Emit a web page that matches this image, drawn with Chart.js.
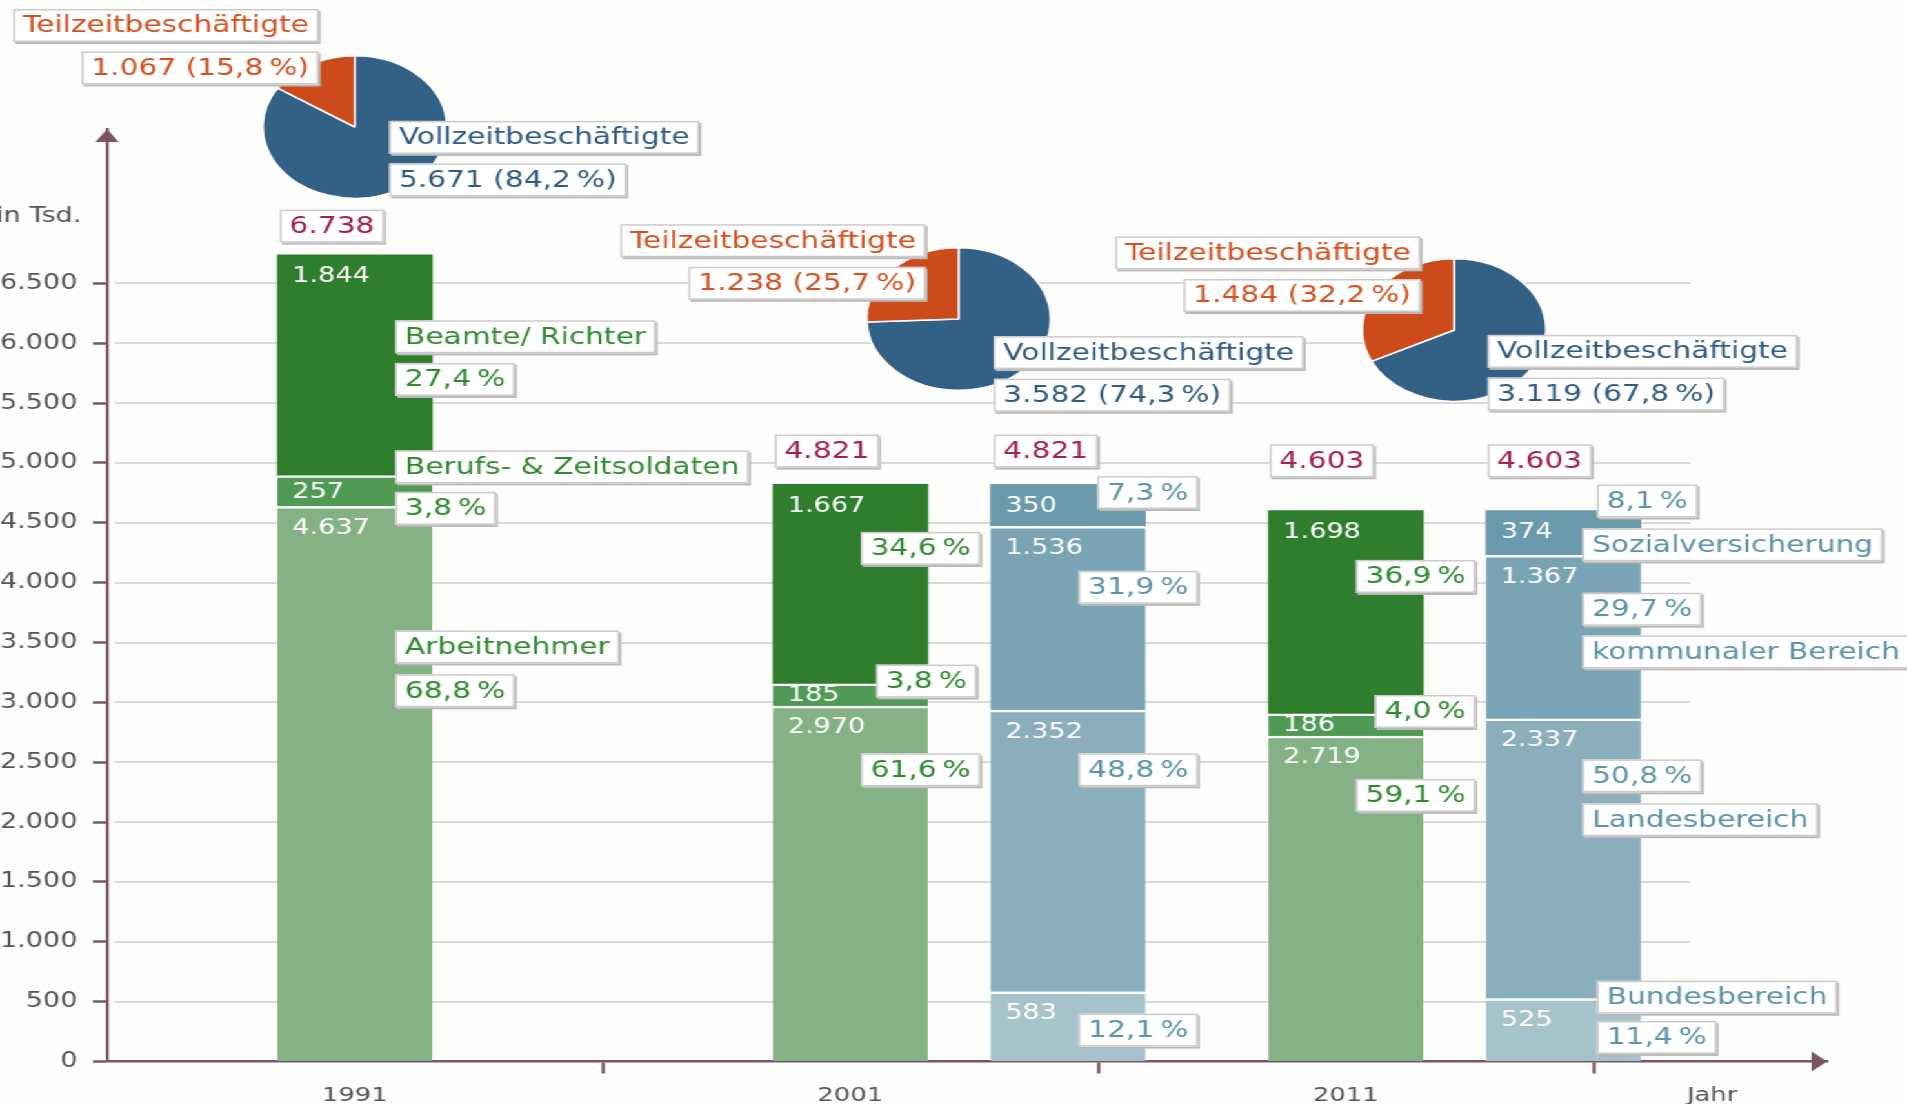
<!DOCTYPE html>
<html><head><meta charset="utf-8">
<script src="https://cdn.jsdelivr.net/npm/chart.js@4.4.1/dist/chart.umd.min.js"></script>
<style>
html,body{margin:0;padding:0;background:#fdfdfc;overflow:hidden;width:1907px;height:1104px;}
#wrap{position:absolute;left:0;top:0;width:1478px;height:1104px;transform:scaleX(1.2903);transform-origin:0 0;}
#wrap canvas{position:absolute;left:0;top:0;}
</style></head><body>
<div id="wrap">
<canvas id="main" width="1478" height="1104"></canvas>
<canvas id="pie0" width="146" height="146"></canvas>
<canvas id="pie1" width="146" height="146"></canvas>
<canvas id="pie2" width="146" height="146"></canvas>
<canvas id="over" width="1478" height="1104"></canvas>
</div>
<script>
// ---------- data ----------
const years = ['1991', '2001', '2011'];
const xAxisTitle = 'Jahr';
const yAxisTitle = 'in Tsd.';
const yTicks = [0, 500, 1000, 1500, 2000, 2500, 3000, 3500, 4000, 4500, 5000, 5500, 6000, 6500];

// status groups (green stacks), 1991 / 2001 / 2011
const greenSeries = ['Arbeitnehmer', 'Berufs- & Zeitsoldaten', 'Beamte/ Richter'];
const arbeitnehmer = [4637, 2970, 2719];
const soldaten = [257, 185, 186];
const beamte = [1844, 1667, 1698];
const totalsGreen = [6738, 4821, 4603];

// areas (blue stacks), 2001 / 2011
const blueSeries = ['Bundesbereich', 'Landesbereich', 'kommunaler Bereich', 'Sozialversicherung'];
const bundes = [583, 525];
const landes = [2352, 2337];
const kommunal = [1536, 1367];
const sozial = [350, 374];
const totalsBlue = [4821, 4603];

// pies: full time / part time, 1991 / 2001 / 2011
const pieSeries = ['Vollzeitbeschäftigte', 'Teilzeitbeschäftigte'];
const vollzeit = [5671, 3582, 3119];
const teilzeit = [1067, 1238, 1484];

// ---------- layout / style ----------
const FONT = "'DejaVu Sans', Verdana, sans-serif";
const AX = '#7b5566';
const W = 1478;
const X_MAX = 3.471, Y_MAX = 7790;
const greenPos = [0.5, 1.5, 2.5];
const bluePos = [1.939, 2.939];
const xTickPos = [0.5, 1, 1.5, 2, 2.5, 3, 3.239];
const xTickText = [years[0], '', years[1], '', years[2], '', xAxisTitle];
const GRID_X0 = 0.0156, GRID_X1 = 3.195;
const COL = {
  arb: '#85b285', sol: '#4f9b55', bea: '#2e7e2e',
  bun: '#a6c2cb', lan: '#8aaebb', kom: '#7aa4b4', soz: '#6b9aad',
  vz: '#336186', tz: '#cd4b1b'
};
const TXT = { g: '#2e8b2e', b: '#5b93a8', tz: '#d4501f', vz: '#2f5b82', tot: '#a5204a' };

const de = n => String(n).replace(/\B(?=(\d{3})+(?!\d))/g, '.');
const pct = (v, t) => (v / t * 100).toFixed(1).replace('.', ',') + '\u2009%';
const pts = (pos, vals) => vals.map((v, i) => ({ x: pos[i], y: v }));
const pieTxt = (i, k) => { const v = k === 0 ? vollzeit[i] : teilzeit[i]; return de(v) + ' (' + pct(v, vollzeit[i] + teilzeit[i]) + ')'; };

const sep = { top: 2.5, left: 0, right: 0, bottom: 0 };
const none = { top: 0, left: 0, right: 0, bottom: 0 };

// label boxes: text, colour, x (slot units), y (data units), alignment
const boxes = [
  [pieSeries[1], TXT.tz, 0.427, 8655, 'r'],
  [pieTxt(0, 1), TXT.tz, 0.427, 8300, 'r'],
  [pieSeries[0], TXT.vz, 0.5693, 7720, 'l'],
  [pieTxt(0, 0), TXT.vz, 0.5693, 7365, 'l'],
  [de(totalsGreen[0]), TXT.tot, 0.3484, 6979, 'l'],
  [greenSeries[2], TXT.g, 0.5816, 6054, 'l'],
  [pct(beamte[0], totalsGreen[0]), TXT.g, 0.5816, 5698, 'l'],
  [greenSeries[1], TXT.g, 0.5816, 4967, 'l'],
  [pct(soldaten[0], totalsGreen[0]), TXT.g, 0.5816, 4621, 'l'],
  [greenSeries[0], TXT.g, 0.5816, 3463, 'l'],
  [pct(arbeitnehmer[0], totalsGreen[0]), TXT.g, 0.5816, 3097, 'l'],

  [pieSeries[1], TXT.tz, 1.6518, 6857, 'r'],
  [pieTxt(1, 1), TXT.tz, 1.6518, 6501, 'r'],
  [pieSeries[0], TXT.vz, 1.7892, 5922, 'l'],
  [pieTxt(1, 0), TXT.vz, 1.7892, 5566, 'l'],
  [de(totalsGreen[1]), TXT.tot, 1.3474, 5099, 'l'],
  [de(totalsBlue[0]), TXT.tot, 1.7892, 5099, 'l'],
  [pct(beamte[1], totalsGreen[1]), TXT.g, 1.7623, 4286, 'r'],
  [pct(soldaten[1], totalsGreen[1]), TXT.g, 1.7549, 3178, 'r'],
  [pct(arbeitnehmer[1], totalsGreen[1]), TXT.g, 1.7623, 2437, 'r'],
  [pct(sozial[0], totalsBlue[0]), TXT.b, 2.2016, 4753, 'r'],
  [pct(kommunal[0], totalsBlue[0]), TXT.b, 2.2016, 3961, 'r'],
  [pct(landes[0], totalsBlue[0]), TXT.b, 2.2016, 2437, 'r'],
  [pct(bundes[0], totalsBlue[0]), TXT.b, 2.2016, 262, 'r'],

  [pieSeries[1], TXT.tz, 2.6508, 6755, 'r'],
  [pieTxt(2, 1), TXT.tz, 2.6508, 6399, 'r'],
  [pieSeries[0], TXT.vz, 2.7858, 5932, 'l'],
  [pieTxt(2, 0), TXT.vz, 2.7858, 5576, 'l'],
  [de(totalsGreen[2]), TXT.tot, 2.3464, 5018, 'l'],
  [de(totalsBlue[1]), TXT.tot, 2.7858, 5018, 'l'],
  [pct(beamte[2], totalsGreen[2]), TXT.g, 2.7613, 4052, 'r'],
  [pct(soldaten[2], totalsGreen[2]), TXT.g, 2.7613, 2924, 'r'],
  [pct(arbeitnehmer[2], totalsGreen[2]), TXT.g, 2.7613, 2223, 'r'],
  [pct(sozial[1], totalsBlue[1]), TXT.b, 3.0067, 4682, 'l'],
  [blueSeries[3], TXT.b, 2.9773, 4316, 'l'],
  [pct(kommunal[1], totalsBlue[1]), TXT.b, 2.9773, 3778, 'l'],
  [blueSeries[2], TXT.b, 2.9773, 3422, 'l'],
  [pct(landes[1], totalsBlue[1]), TXT.b, 2.9773, 2386, 'l'],
  [blueSeries[1], TXT.b, 2.9773, 2020, 'l'],
  [blueSeries[0], TXT.b, 3.0067, 537, 'l'],
  [pct(bundes[1], totalsBlue[1]), TXT.b, 3.0067, 201, 'l']
];
const pieX = [0.5, 1.7195, 2.7195];
const pieY = [7807, 6203, 6107];

function drawBox(ctx, text, color, px, py, align) {
  ctx.font = '23px ' + FONT;
  const tw = ctx.measureText(text).width;
  const padX = 7.5, w = tw + 2 * padX, h = 33;
  const left = align === 'r' ? px - w : px;
  const top = py - h / 2;
  ctx.fillStyle = '#b9b9b9';
  ctx.fillRect(left + 1.5, top + 2, w, h);
  ctx.fillStyle = '#ffffff';
  ctx.fillRect(left, top, w, h);
  ctx.strokeStyle = '#cbcbcb';
  ctx.lineWidth = 1.5;
  ctx.strokeRect(left + 0.75, top + 0.75, w - 1.5, h - 1.5);
  ctx.fillStyle = color;
  ctx.textBaseline = 'middle';
  ctx.textAlign = 'left';
  ctx.fillText(text, left + padX, py + 1);
}

const gridPlugin = {
  id: 'gridPlugin',
  beforeDatasetsDraw(chart) {
    const { ctx, scales: { x, y } } = chart;
    ctx.save();
    ctx.strokeStyle = '#d9d9d9';
    ctx.lineWidth = 2;
    y.ticks.forEach(t => {
      if (t.value === 0) return;
      const py = Math.round(y.getPixelForValue(t.value));
      ctx.beginPath();
      ctx.moveTo(x.getPixelForValue(GRID_X0), py);
      ctx.lineTo(x.getPixelForValue(GRID_X1), py);
      ctx.stroke();
    });
    ctx.restore();
  },
  afterDraw(chart) {
    const { ctx, chartArea: a } = chart;
    ctx.save();
    ctx.fillStyle = AX;
    // y arrow
    ctx.beginPath();
    ctx.moveTo(a.left, a.top);
    ctx.lineTo(a.left - 9, a.top + 13);
    ctx.lineTo(a.left + 9, a.top + 13);
    ctx.closePath(); ctx.fill();
    // x arrow
    ctx.beginPath();
    ctx.moveTo(a.right, a.bottom);
    ctx.lineTo(a.right - 12, a.bottom - 10);
    ctx.lineTo(a.right - 12, a.bottom + 10);
    ctx.closePath(); ctx.fill();
    // unit label
    ctx.fillStyle = '#555';
    ctx.font = '21px ' + FONT;
    ctx.textBaseline = 'middle';
    ctx.textAlign = 'left';
    ctx.fillText(yAxisTitle, -3, 217);
    ctx.restore();

    // overlay: values inside bars + label boxes
    const oc = document.getElementById('over').getContext('2d');
    oc.clearRect(0, 0, W, 1104);
    oc.save();
    oc.font = '21px ' + FONT;
    oc.fillStyle = '#ffffff';
    oc.textBaseline = 'middle';
    oc.textAlign = 'left';
    chart.data.datasets.forEach((ds, di) => {
      const meta = chart.getDatasetMeta(di);
      meta.data.forEach((el, i) => {
        const h = el.base - el.y;
        const ty = el.y + Math.min(21, h / 2) + 1;
        oc.fillText(de(ds.data[i].y), el.x - el.width / 2 + 11.5, ty);
      });
    });
    const xs = chart.scales.x, ys = chart.scales.y;
    boxes.forEach(b => drawBox(oc, b[0], b[1], xs.getPixelForValue(b[2]), ys.getPixelForValue(b[3]), b[4]));
    oc.restore();
  }
};

const mainChart = new Chart(document.getElementById('main'), {
  type: 'bar',
  data: {
    datasets: [
      { label: greenSeries[0], data: pts(greenPos, arbeitnehmer), backgroundColor: COL.arb, borderColor: '#fff', borderWidth: sep, borderSkipped: false },
      { label: greenSeries[1], data: pts(greenPos, soldaten), backgroundColor: COL.sol, borderColor: '#fff', borderWidth: sep, borderSkipped: false },
      { label: greenSeries[2], data: pts(greenPos, beamte), backgroundColor: COL.bea, borderWidth: none, borderSkipped: false },
      { label: blueSeries[0], data: pts(bluePos, bundes), backgroundColor: COL.bun, borderColor: '#fff', borderWidth: sep, borderSkipped: false },
      { label: blueSeries[1], data: pts(bluePos, landes), backgroundColor: COL.lan, borderColor: '#fff', borderWidth: sep, borderSkipped: false },
      { label: blueSeries[2], data: pts(bluePos, kommunal), backgroundColor: COL.kom, borderColor: '#fff', borderWidth: sep, borderSkipped: false },
      { label: blueSeries[3], data: pts(bluePos, sozial), backgroundColor: COL.soz, borderWidth: none, borderSkipped: false }
    ]
  },
  options: {
    responsive: false,
    animation: false,
    events: [],
    layout: { padding: { top: 129, right: W - 1416, left: 0, bottom: 0 } },
    plugins: { legend: { display: false }, tooltip: { enabled: false } },
    datasets: { bar: { barThickness: 120, grouped: false } },
    scales: {
      x: {
        type: 'linear', min: 0, max: X_MAX, stacked: true, offset: false,
        afterBuildTicks: s => { s.ticks = xTickPos.map(v => ({ value: v })); },
        afterFit: s => { s.height = 42.5; },
        ticks: { autoSkip: false, maxRotation: 0, padding: 10, color: '#555', font: { family: FONT, size: 20 },
                 callback: (v, i) => xTickText[i] },
        grid: { offset: false, drawOnChartArea: false, drawTicks: true, tickLength: 12, tickWidth: 2.5,
                tickColor: c => (xTickText[c.index] ? 'rgba(0,0,0,0)' : AX) },
        border: { display: true, color: AX, width: 2.5 }
      },
      y: {
        type: 'linear', min: 0, max: Y_MAX, stacked: true,
        afterBuildTicks: s => { s.ticks = yTicks.map(v => ({ value: v })); },
        afterFit: s => { s.width = 83; },
        ticks: { padding: 12, color: '#555', font: { family: FONT, size: 21 }, callback: v => de(v) },
        grid: { drawOnChartArea: false, drawTicks: true, tickLength: 11, tickWidth: 2.5, tickColor: AX },
        border: { display: true, color: AX, width: 2.3 }
      }
    }
  },
  plugins: [gridPlugin]
});

// pies, positioned through the main chart's scales
pieX.forEach((px, i) => {
  const cv = document.getElementById('pie' + i);
  const cx = mainChart.scales.x.getPixelForValue(px);
  const cy = mainChart.scales.y.getPixelForValue(pieY[i]);
  new Chart(cv, {
    type: 'pie',
    data: { labels: pieSeries, datasets: [{ data: [vollzeit[i], teilzeit[i]], backgroundColor: [COL.vz, COL.tz], borderColor: '#fff', borderWidth: 1.5 }] },
    options: { responsive: false, animation: false, events: [], layout: { padding: 1 },
               plugins: { legend: { display: false }, tooltip: { enabled: false } } }
  });
  cv.style.left = (cx - 73) + 'px';
  cv.style.top = (cy - 73) + 'px';
});
</script>
</body></html>
